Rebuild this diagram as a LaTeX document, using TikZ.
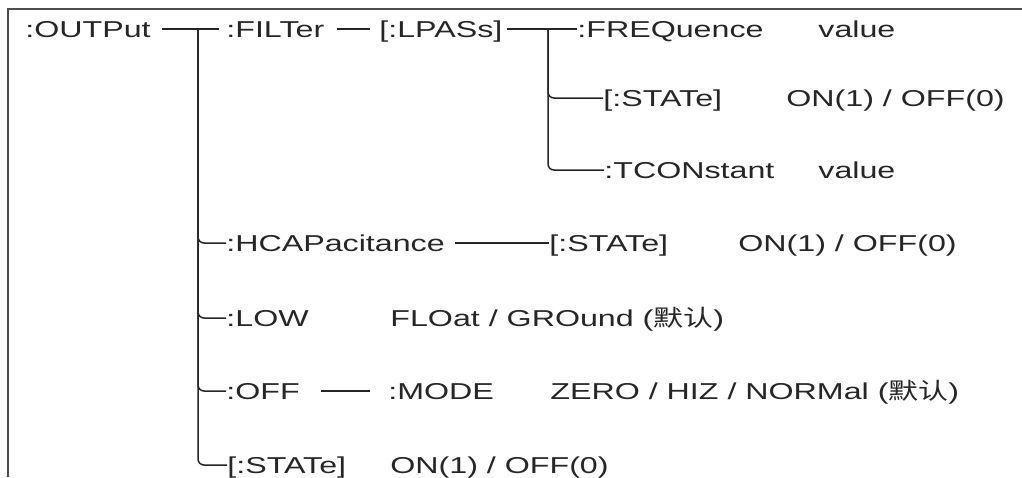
\documentclass[tikz,border=0pt]{standalone}
\usepackage{fontspec}
\setmainfont{Liberation Sans}[FakeStretch=1.4]
\newfontfamily\cjk{Noto Sans CJK SC}[FakeStretch=1.3]
\usetikzlibrary{positioning}
\definecolor{ink}{HTML}{262626}
\definecolor{rule}{HTML}{4D4D4D}
\tikzset{
  cmd/.style={anchor=west, inner sep=0pt, text height=8.2pt, text depth=0pt,
              font=\fontsize{11.5}{13}\selectfont, text=ink},
  arg/.style={cmd},
  tree/.style={draw=ink, line width=0.75pt, rounded corners=3pt},
  frame/.style={draw=rule, line width=1pt}
}

\begin{document}
\begin{tikzpicture}[x=0.5pt, y=-0.5pt]
  \useasboundingbox (0,0) rectangle (1022,477);
  \draw[frame] (8,477) -- (8,9) -- (1022,9);
  % :OUTPut subsystem
  \node[cmd] (out) at (25,29) {:OUTPut};
  \node[cmd] (filter) at (226,29) {:FILTer};
  \node[cmd] (lpass) at (379,29) {[:LPASs]};
  \node[cmd] (freq) at (577,29) {:FREQuence};
  \node[arg] (freqv) at (818,29) {value};
  \node[cmd] (lstate) at (603,98) {[:STATe]};
  \node[arg] (lstatev) at (786,98) {ON(1) / OFF(0)};
  \node[cmd] (tcon) at (604,170) {:TCONstant};
  \node[arg] (tconv) at (818,170) {value};
  \node[cmd] (hcap) at (226,243) {:HCAPacitance};
  \node[cmd] (hstate) at (549,243) {[:STATe]};
  \node[arg] (hstatev) at (738,243) {ON(1) / OFF(0)};
  \node[cmd] (low) at (226,318) {:LOW};
  \node[arg] (lowv) at (390,318) {FLOat / GROund ({\cjk 默认})};
  \node[cmd] (off) at (226,391) {:OFF};
  \node[cmd] (mode) at (388,391) {:MODE};
  \node[arg] (modev) at (550,391) {ZERO / HIZ / NORMal ({\cjk 默认})};
  \node[cmd] (ostate) at (227,465) {[:STATe]};
  \node[arg] (ostatev) at (390,465) {ON(1) / OFF(0)};
  \coordinate (t1) at (198,29);
  \coordinate (t2) at (548,29);
  % branches
  \draw[tree] ([xshift=5.5pt]out.east) -- ([xshift=-3.5pt]filter.west);
  \draw[tree] ([xshift=6pt]filter.east) -- ([xshift=-4.5pt]lpass.west);
  \draw[tree] ([xshift=2pt]lpass.east) -- (freq.west);
  \foreach \n in {hcap,low,off,ostate} \draw[tree] (t1) |- (\n.west);
  \foreach \n in {lstate,tcon} \draw[tree] (t2) |- (\n.west);
  \draw[tree] ([xshift=5pt]hcap.east) -- (hstate.west);
  \draw[tree] ([xshift=10.5pt]off.east) -- ([xshift=-9pt]mode.west);
\end{tikzpicture}
\end{document}
